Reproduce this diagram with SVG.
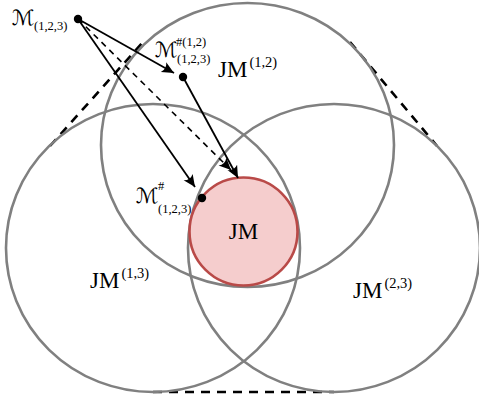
<svg xmlns="http://www.w3.org/2000/svg" width="479" height="400" viewBox="0 0 479 400">
<style>
.ring{fill:none;stroke:#808080;stroke-width:2.6}
.tan{stroke:#000;stroke-width:2.6;stroke-dasharray:9,7;fill:none}
.arr{stroke:#000;stroke-width:1.8;fill:none}
.dash{stroke:#000;stroke-width:1.6;stroke-dasharray:6,5;fill:none}
text{font-family:"Liberation Serif","DejaVu Serif",serif;fill:#000}
.big{font-size:23px}
.sup{font-size:14.5px}
.m{font-family:"DejaVu Serif","DejaVu Sans","Liberation Serif",serif;font-size:21px}
.s{font-size:12.5px}
</style>
<defs>
<marker id="ah" viewBox="-13 -6 15 12" refX="0" refY="0" markerWidth="15" markerHeight="12" markerUnits="userSpaceOnUse" orient="auto">
<path d="M0,0 L-12,-5.5 Q-8,0 -12,5.5 Z" fill="#000"/>
</marker>
</defs>
<g id="tangents">
<line class="tan" x1="50" y1="146" x2="143" y2="42"/>
<line class="tan" x1="350" y1="42" x2="437" y2="146"/>
<line class="tan" x1="153" y1="392" x2="334" y2="392"/>
</g>
<g id="jm12"><ellipse class="ring" cx="247.5" cy="145" rx="146.5" ry="142"/>
<text class="big" x="218" y="77">JM<tspan class="sup" dx="2" dy="-10">(1,2)</tspan></text></g>
<g id="jm13"><ellipse class="ring" cx="153" cy="248" rx="147" ry="144"/>
<text class="big" x="90" y="288">JM<tspan class="sup" dx="2" dy="-10">(1,3)</tspan></text></g>
<g id="jm23"><ellipse class="ring" cx="334" cy="248" rx="146" ry="144"/>
<text class="big" x="353" y="298">JM<tspan class="sup" dx="2" dy="-10">(2,3)</tspan></text></g>
<g id="jm"><circle cx="243.5" cy="231.5" r="54" fill="#f5cdcd" stroke="#b94a48" stroke-width="2.6"/>
<text class="big" x="243.5" y="239" text-anchor="middle">JM</text></g>
<g id="connectors">
<line class="arr" x1="78" y1="19" x2="174" y2="73" marker-end="url(#ah)"/>
<line class="arr" x1="78" y1="19" x2="195" y2="187" marker-end="url(#ah)"/>
<line class="dash" x1="78" y1="19" x2="231" y2="170" marker-end="url(#ah)"/>
<line class="arr" x1="183" y1="77" x2="238" y2="178" marker-end="url(#ah)"/>
</g>
<g id="m123"><circle cx="78" cy="19" r="4.2" fill="#000"/>
<text class="m" x="12" y="25">ℳ</text><text class="s" x="34" y="30">(1,2,3)</text></g>
<g id="m12"><circle cx="183" cy="77" r="4.2" fill="#000"/>
<text class="m" x="155" y="57">ℳ</text><text class="s" x="176" y="46">#(1,2)</text><text class="s" x="177" y="63">(1,2,3)</text></g>
<g id="mhash"><circle cx="202" cy="198" r="4.2" fill="#000"/>
<text class="m" x="136" y="203">ℳ</text><text class="s" x="158" y="190">#</text><text class="s" x="158" y="213">(1,2,3)</text></g>
</svg>
